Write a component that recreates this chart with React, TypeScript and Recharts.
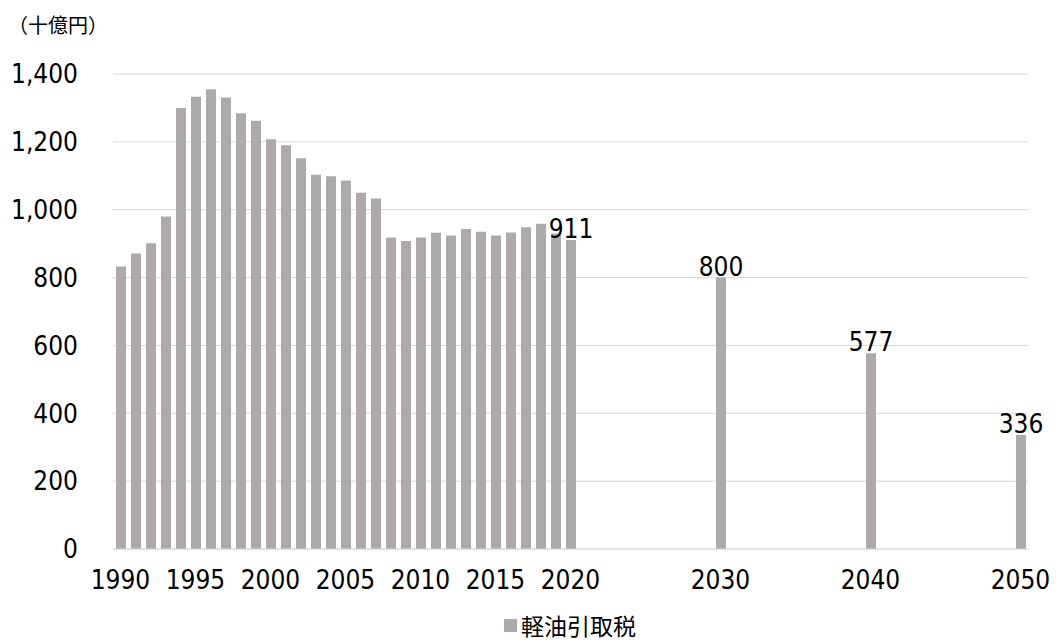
// 軽油引取税の推移 (1990–2020 実績, 2030/2040/2050 見通し)
import { Bar, BarChart, CartesianGrid, LabelList, Legend, XAxis, YAxis } from "recharts";

const years = Array.from({ length: 61 }, (_, i) => 1990 + i);

// 実績 1990–2020
const actual = [
  833, 871, 901, 980, 1300, 1333, 1355, 1331, 1284, 1262,
  1208, 1190, 1152, 1103, 1099, 1086, 1050, 1033, 918, 908,
  918, 932, 924, 943, 935, 924, 933, 948, 959, 930,
  911,
];

// 見通し
const forecastYears = [2030, 2040, 2050];
const forecast = [800, 577, 336];

const tickYears = [1990, 1995, 2000, 2005, 2010, 2015, 2020, 2030, 2040, 2050];
const labelYears = [2020, 2030, 2040, 2050];
const yTicks = [0, 200, 400, 600, 800, 1000, 1200, 1400];

const data = years.map((y) => {
  let v: number | null = null;
  if (y <= 2020) v = actual[y - 1990];
  const fi = forecastYears.indexOf(y);
  if (fi >= 0) v = forecast[fi];
  return { year: String(y), value: v, label: labelYears.includes(y) ? v : null };
});

const FONT = "'DejaVu Sans', sans-serif";
const JP = "'Noto Sans CJK JP', sans-serif";
const BAR = "#aeaaaa";
const numStyle = { fontStretch: "condensed" as const };

function ValueLabel(props: any) {
  const { x, y, width, value } = props;
  if (value == null || value === "") return null;
  return (
    <text
      x={Number(x) + Number(width) / 2}
      y={Number(y) - 2}
      textAnchor="middle"
      fontSize={26}
      fontFamily={FONT}
      style={numStyle}
      fill="#000"
    >
      {value}
    </text>
  );
}

function LegendContent() {
  return (
    <div
      style={{
        display: "flex",
        justifyContent: "center",
        alignItems: "center",
        fontFamily: JP,
        fontSize: 23,
        color: "#000",
        paddingLeft: 74,
      }}
    >
      <span style={{ width: 13, height: 13, background: BAR, marginRight: 4, display: "inline-block" }} />
      軽油引取税
    </div>
  );
}

export default function App() {
  return (
    <div style={{ position: "relative", width: 1050, height: 634 }}>
      <div
        style={{
          position: "absolute",
          left: 0,
          top: 2,
          fontFamily: JP,
          fontSize: 20,
          color: "#000",
        }}
      >
        （十億円）
      </div>
      <BarChart
        width={1050}
        height={634}
        data={data}
        margin={{ top: 66, right: 30, bottom: 33, left: 0 }}
        barSize={10}
      >
        <CartesianGrid vertical={false} stroke="#d9d9d9" />
        <XAxis
          dataKey="year"
          interval={0}
          height={60}
          tickLine={false}
          tickSize={0}
          tickMargin={22}
          axisLine={{ stroke: "#d9d9d9" }}
          tick={{ fontSize: 26, fill: "#000", fontFamily: FONT, style: numStyle }}
          tickFormatter={(v: string) => (tickYears.includes(Number(v)) ? v : "")}
        />
        <YAxis
          width={105}
          domain={[0, 1400]}
          ticks={yTicks}
          axisLine={false}
          tickLine={false}
          tickSize={0}
          tickMargin={35}
          tick={{ fontSize: 26, fill: "#000", fontFamily: FONT, style: numStyle }}
          tickFormatter={(v: number) => v.toLocaleString("en-US")}
        />
        <Legend
          verticalAlign="middle"
          content={<LegendContent />}
          wrapperStyle={{ position: "absolute", top: 600, left: 0, width: 1050 }}
        />
        <Bar dataKey="value" name="軽油引取税" fill={BAR} isAnimationActive={false}>
          <LabelList dataKey="label" content={<ValueLabel />} />
        </Bar>
      </BarChart>
    </div>
  );
}
